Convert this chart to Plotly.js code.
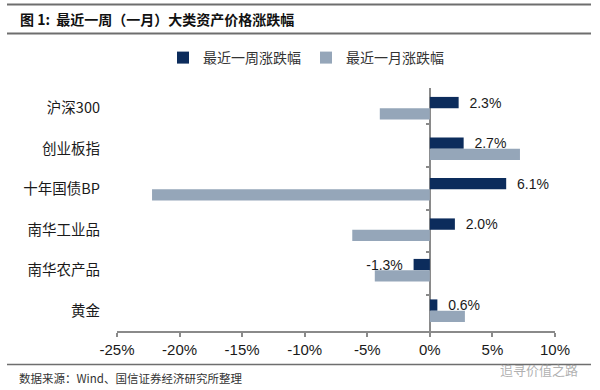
<!DOCTYPE html>
<html>
<head>
<meta charset="utf-8">
<script src="https://cdn.plot.ly/plotly-3.0.1.min.js"></script>
<style>html,body{margin:0;padding:0;background:#fff;}#chart{width:600px;height:390px;}</style>
</head>
<body>
<div id="chart"></div>
<script>
var categories = ['沪深300', '创业板指', '十年国债BP', '南华工业品', '南华农产品', '黄金'];
var weekValues = [2.3, 2.7, 6.1, 2.0, -1.3, 0.6];
var monthValues = [-4.0, 7.2, -22.2, -6.2, -4.4, 2.8];
var seriesNames = ['最近一周涨跌幅', '最近一月涨跌幅'];
var xTickVals = [-25, -20, -15, -10, -5, 0, 5, 10];

var NB = '\u00a0';
var weekText = weekValues.map(function (v) {
  return v < 0 ? v.toFixed(1) + '%' + NB + NB : NB + NB + v.toFixed(1) + '%';
});

var W = 600, H = 390;
var L = 117, R = 555, T = 88, B = 331;
function px(x) { return (x - L) / (R - L); }
function py(y) { return (B - y) / (B - T); }

var cjk = '"Noto Sans CJK SC", "Liberation Sans", Arial, sans-serif';
var lat = '"Liberation Sans", Arial, "Noto Sans CJK SC", sans-serif';
var axisGray = '#8a8a8a';

var traces = [
  {
    type: 'bar', orientation: 'h', name: seriesNames[0],
    y: categories, x: weekValues,
    marker: { color: '#0c2c5c' },
    text: weekText, textposition: 'outside', constraintext: 'none',
    textfont: { family: lat, size: 14, color: '#1a1a1a' },
    cliponaxis: false, hoverinfo: 'x+y'
  },
  {
    type: 'bar', orientation: 'h', name: seriesNames[1],
    y: categories, x: monthValues,
    marker: { color: '#95a6b9' },
    hoverinfo: 'x+y'
  },
  {
    // invisible helper so the category tick marks on the zero axis get drawn
    type: 'scatter', mode: 'markers', yaxis: 'y2',
    y: categories, x: weekValues.map(function () { return 0; }),
    marker: { opacity: 0, size: 1 }, showlegend: false, hoverinfo: 'skip'
  }
];

var xmin = xTickVals[0], xmax = xTickVals[xTickVals.length - 1];
var zeroPos = (0 - xmin) / (xmax - xmin);

var layout = {
  width: W, height: H,
  margin: { l: L, r: W - R, t: T, b: H - B, pad: 0 },
  paper_bgcolor: '#ffffff', plot_bgcolor: '#ffffff',
  barmode: 'group', bargap: 0.44, bargroupgap: 0,
  showlegend: true,
  legend: {
    orientation: 'h', xref: 'container', yref: 'container',
    x: 0.51, xanchor: 'center', y: 1 - 58 / H, yanchor: 'middle',
    font: { family: cjk, size: 14, color: '#333' },
    itemwidth: 30, tracegroupgap: 0
  },
  xaxis: {
    range: [xmin, xmax], tickvals: xTickVals,
    ticktext: xTickVals.map(function (v) { return v + '%'; }),
    showgrid: false, showline: true, linecolor: axisGray, linewidth: 2,
    ticks: 'outside', ticklen: 4, tickwidth: 2, tickcolor: axisGray,
    zeroline: true, zerolinecolor: axisGray, zerolinewidth: 2,
    tickfont: { family: lat, size: 15, color: '#1a1a1a' },
    fixedrange: true
  },
  yaxis: {
    type: 'category', categoryorder: 'array', categoryarray: categories,
    autorange: 'reversed', showgrid: false, showline: false, zeroline: false,
    ticks: '', ticklabelstandoff: 16,
    tickfont: { family: cjk, size: 14.5, color: '#1a1a1a' },
    fixedrange: true
  },
  yaxis2: {
    type: 'category', categoryorder: 'array', categoryarray: categories,
    overlaying: 'y', anchor: 'free', position: zeroPos, side: 'left',
    autorange: 'reversed', tickson: 'boundaries',
    showticklabels: false, showgrid: false, showline: false, zeroline: false,
    ticks: 'outside', ticklen: 4, tickwidth: 2, tickcolor: axisGray,
    fixedrange: true
  },
  shapes: [
    { type: 'line', xref: 'paper', yref: 'paper', x0: px(7), x1: px(591), y0: py(4.5), y1: py(4.5), line: { color: '#6e6e6e', width: 2 } },
    { type: 'line', xref: 'paper', yref: 'paper', x0: px(7), x1: px(591), y0: py(33.5), y1: py(33.5), line: { color: '#6e6e6e', width: 2 } },
    { type: 'line', xref: 'paper', yref: 'paper', x0: px(7), x1: px(591), y0: py(364.5), y1: py(364.5), line: { color: '#6e6e6e', width: 1.5 } }
  ],
  annotations: [
    { xref: 'paper', yref: 'paper', x: px(18), y: py(19), xanchor: 'left', yanchor: 'middle', showarrow: false,
      text: '<b>图 1:  最近一周（一月）大类资产价格涨跌幅</b>', font: { family: cjk, size: 14, color: '#111' } },
    { xref: 'paper', yref: 'paper', x: px(17), y: py(378), xanchor: 'left', yanchor: 'middle', showarrow: false,
      text: '数据来源：Wind、国信证券经济研究所整理', font: { family: cjk, size: 11.5, color: '#333' } },
    { xref: 'paper', yref: 'paper', x: px(580), y: py(369), xanchor: 'right', yanchor: 'middle', showarrow: false,
      text: '追寻价值之路', font: { family: cjk, size: 13, color: 'rgba(150,150,150,0.75)' } }
  ]
};

Plotly.newPlot('chart', traces, layout, { displayModeBar: false, staticPlot: true });
</script>
</body>
</html>
